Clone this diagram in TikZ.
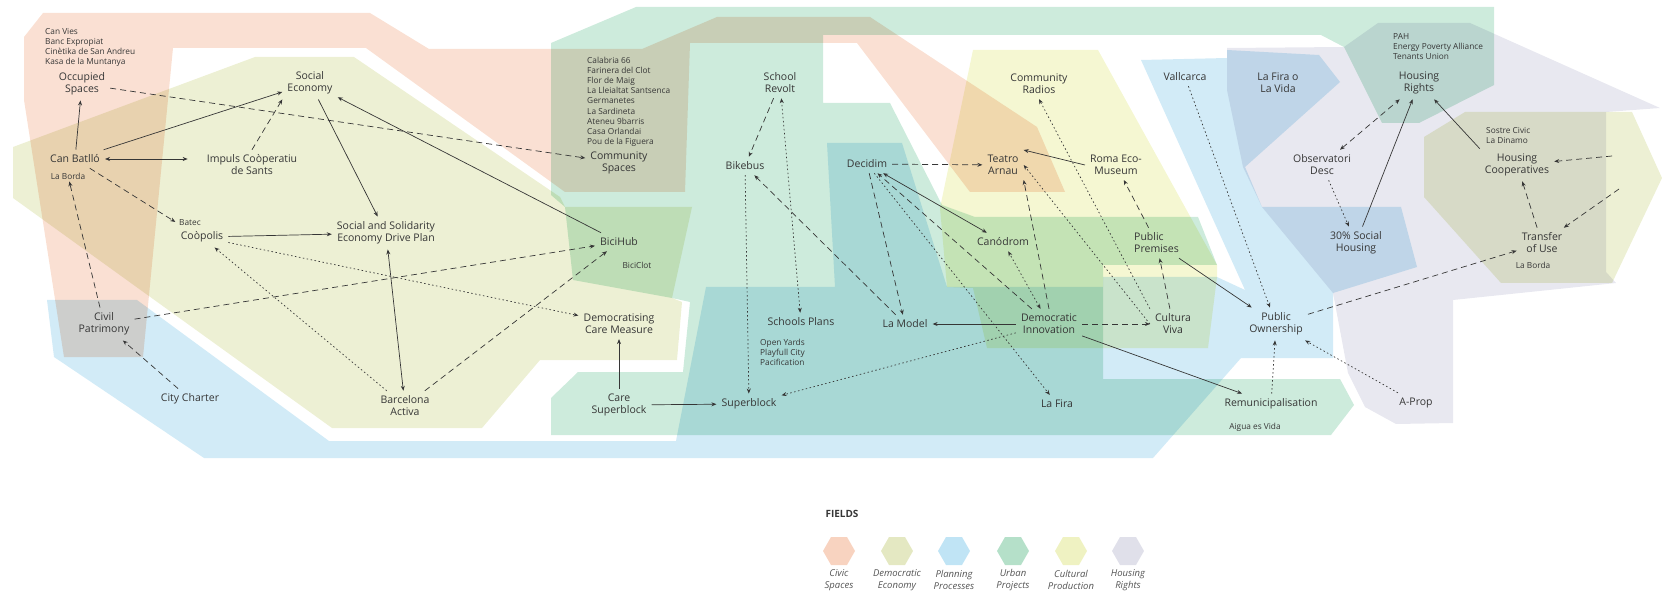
\documentclass[tikz,border=0pt]{standalone}
\usepackage{fontspec}
\setmainfont{Open Sans}
\usetikzlibrary{arrows.meta}

\definecolor{civic}{HTML}{FAE0D3}
\definecolor{demeco}{HTML}{EDF0D4}
\definecolor{planning}{HTML}{D2EBF7}
\definecolor{urban}{HTML}{CDEBDC}
\definecolor{cultural}{HTML}{F5F7D2}
\definecolor{housing}{HTML}{E8E8F0}
\definecolor{civicL}{HTML}{F8D3C0}
\definecolor{demecoL}{HTML}{E4E8C2}
\definecolor{planningL}{HTML}{C0E4F5}
\definecolor{urbanL}{HTML}{B5E0C9}
\definecolor{culturalL}{HTML}{EFF2C2}
\definecolor{housingL}{HTML}{E0E0EA}
\definecolor{ink}{HTML}{363636}

\tikzset{
  field/.style={fill=#1, blend mode=multiply},
  lbl/.style={align=center, text=ink, font=\fontsize{10.5}{12}\selectfont, inner sep=5pt},
  sub/.style={align=left, text=ink, font=\fontsize{8.3}{10}\selectfont, inner sep=2pt},
  link/.style={draw=ink, line width=0.7pt, -{Stealth[length=5pt,width=4pt]}},
  dlink/.style={link, dash pattern=on 6pt off 4pt},
  olink/.style={link, dash pattern=on 1.5pt off 2.5pt},
  twoway/.style={{Stealth[length=5pt,width=4pt]}-{Stealth[length=5pt,width=4pt]}},
  legend/.style={align=center, text=ink!85, font=\itshape\fontsize{9.5}{12}\selectfont, inner sep=1pt}
}

\begin{document}
\begin{tikzpicture}[x=1pt,y=-1pt]
\useasboundingbox (0,0) rectangle (1680,593);

% fields
\fill[field=civic] (43,13) -- (370,13) -- (429,49) -- (642,49) -- (717,17) -- (870,17)
  -- (1037,127) -- (1065,192) -- (970,192) -- (857,43) -- (690,43) -- (685,192) -- (565,192)
  -- (366,48) -- (173,48) -- (143,357) -- (64,357) -- (24,100) -- (24,37) -- cycle;
\fill[field=demeco] (13,147) -- (255,57) -- (354,57) -- (560,197) -- (565,207) -- (692,207)
  -- (672,298) -- (682,302) -- (677,360) -- (540,360) -- (482,428) -- (332,428) -- (13,198) -- cycle;
\fill[field=demeco] (1424,137) -- (1465,112) -- (1632,112) -- (1662,178) -- (1612,283)
  -- (1501,283) -- (1424,197) -- cycle;
\fill[field=planning] (47,300) -- (137,300) -- (329,441) -- (676,441) -- (706,287) -- (835,287)
  -- (827,143) -- (902,143) -- (947,287) -- (1103,287) -- (1103,277) -- (1217,277) -- (1245,290)
  -- (1141,60) -- (1227,58) -- (1227,50) -- (1319,55) -- (1340,82) -- (1245,167) -- (1262,207)
  -- (1401,207) -- (1417,267) -- (1333,293) -- (1333,358) -- (1241,358) -- (1153,458)
  -- (204,458) -- (54,357) -- cycle;
\fill[field=urban] (551,43) -- (636,7) -- (1494,7) -- (1494,85) -- (1419,123) -- (1382,123)
  -- (1344,47) -- (1321,35) -- (823,35) -- (823,103) -- (890,103) -- (942,205) -- (975,217)
  -- (1198,217) -- (1217,265) -- (1103,265) -- (1103,379) -- (1340,379) -- (1354,405)
  -- (1331,435) -- (551,435) -- (551,398) -- (578,372) -- (683,372) -- (690,302) -- (672,298)
  -- (573,280) -- (565,207) -- (551,195) -- cycle;
\fill[field=cultural] (973,50) -- (1098,50) -- (1217,265) -- (1217,277) -- (1208,348)
  -- (987,348) -- (973,288) -- (947,287) -- (940,208) -- cycle;
\fill[field=housing] (1227,48) -- (1344,47) -- (1378,23) -- (1470,23) -- (1660,108)
  -- (1606,112) -- (1606,272) -- (1616,283) -- (1453,300) -- (1453,423) -- (1396,424)
  -- (1365,407) -- (1348,373) -- (1333,293) -- (1262,207) -- (1243,167) -- (1227,90) -- cycle;

% projects
\node[lbl] (occ) at (82,84) {Occupied\\Spaces};
\node[sub, anchor=north west] (occlist) at (43,26) {Can Vies\\Banc Expropiat\\Cinètika de San Andreu\\Kasa de la Muntanya};
\node[lbl] (batllo) at (75,159) {Can Batlló};
\node[sub] (borda1) at (68,176) {La Borda};
\node[lbl] (impuls) at (252,165) {Impuls Coòperatiu\\de Sants};
\node[lbl] (soceco) at (310,83) {Social\\Economy};
\node[lbl] (coopolis) at (202,237) {Coòpolis};
\node[sub, anchor=west] (batec) at (177,223) {Batec};
\node[lbl] (ssedp) at (386,233) {Social and Solidarity\\Economy Drive Plan};
\node[lbl] (civpat) at (104,324) {Civil\\Patrimony};
\node[lbl] (charter) at (190,399) {City Charter};
\node[lbl] (activa) at (405,406) {Barcelona\\Activa};
\node[lbl] (bicihub) at (619,242) {BiciHub};
\node[sub] (biciclot) at (637,265) {BiciClot};
\node[lbl] (dcm) at (619,324) {Democratising\\Care Measure};
\node[lbl] (caresb) at (619,405) {Care\\Superblock};
\node[lbl] (superblock) at (749,404) {Superblock};
\node[lbl] (commsp) at (619,163) {Community\\Spaces};
\node[sub, anchor=north west, font=\fontsize{8.3}{10.1}\selectfont] (commlist) at (585,55)
  {Calabria 66\\Farinera del Clot\\Flor de Maig\\La Lleialtat Santsenca\\Germanetes\\La Sardineta\\Ateneu 9barris\\Casa Orlandai\\Pou de la Figuera};
\node[lbl] (revolt) at (780,83) {School\\Revolt};
\node[lbl] (bikebus) at (745,166) {Bikebus};
\node[lbl] (decidim) at (867,164) {Decidim};
\node[lbl] (schplans) at (801,322) {Schools Plans};
\node[sub, anchor=north west] (schlist) at (758,337) {Open Yards\\Playfull City\\Pacification};
\node[lbl] (lamodel) at (905,324) {La Model};
\node[lbl] (teatro) at (1003,165) {Teatro\\Arnau};
\node[lbl] (radios) at (1039,84) {Community\\Radios};
\node[lbl] (roma) at (1116,165) {Roma Eco-\\Museum};
\node[lbl] (canodrom) at (1003,242) {Canódrom};
\node[lbl, align=left, anchor=west] (premises) at (1129,243) {Public\\Premises};
\node[lbl] (deminn) at (1049,324) {Democratic\\Innovation};
\node[lbl] (cultura) at (1173,324) {Cultura\\Viva};
\node[lbl] (lafira) at (1057,404) {La Fira};
\node[lbl] (remun) at (1271,404) {Remunicipalisation};
\node[sub] (aigua) at (1255,427) {Aigua es Vida};
\node[lbl] (puown) at (1276,324) {Public\\Ownership};
\node[lbl] (aprop) at (1416,403) {A-Prop};
\node[lbl] (vallcarca) at (1185,77) {Vallcarca};
\node[lbl] (firavida) at (1278,83) {La Fira o\\La Vida};
\node[lbl] (hrights) at (1419,83) {Housing\\Rights};
\node[sub, anchor=north west] (hrlist) at (1391,31) {PAH\\Energy Poverty Alliance\\Tenants Union};
\node[lbl] (obsdesc) at (1322,165) {Observatori\\Desc};
\node[lbl] (social30) at (1356,243) {30\% Social\\Housing};
\node[lbl] (hcoop) at (1517,165) {Housing\\Cooperatives};
\node[sub, anchor=north west] (hclist) at (1484,125) {Sostre Civic\\La Dinamo};
\node[lbl] (transfer) at (1542,243) {Transfer\\of Use};
\node[sub] (borda2) at (1533,265) {La Borda};
\coordinate (eastin) at (1612,156);
\coordinate (eastin2) at (1619,189);

% links
\draw[link] (batllo) -- (occ);
\draw[link] (batllo) -- (soceco);
\draw[link,twoway,shorten >=14pt] (batllo) -- (impuls.west |- batllo);
\draw[dlink] (impuls.north) -- (soceco.south west);
\draw[dlink] (occ) -- (commsp);
\draw[link] (soceco) -- (ssedp);
\draw[link] (bicihub) -- (soceco);
\draw[dlink, shorten >=2pt] (batllo) -- (batec.west);
\draw[dlink] (civpat) -- (borda1);
\draw[link] (coopolis) -- (ssedp);
\draw[olink] (coopolis) -- (dcm);
\draw[olink] (activa) -- (coopolis);
\draw[link,twoway] (activa) -- (ssedp);
\draw[dlink] (civpat) -- (bicihub);
\draw[dlink] (activa) -- (bicihub);
\draw[dlink] (charter) -- (civpat);
\draw[link] (caresb) -- (dcm);
\draw[link] (caresb) -- (superblock);
\draw[dlink] (revolt) -- (bikebus);
\draw[olink,twoway] (schplans) -- (revolt);
\draw[olink] (bikebus) -- (superblock);
\draw[dlink] (lamodel) -- (bikebus);
\draw[dlink] (decidim) -- (lamodel);
\draw[dlink] (decidim) -- (teatro);
\draw[link,twoway] (decidim) -- (canodrom);
\draw[olink] (decidim) -- (lafira);
\draw[dlink] (deminn) -- (decidim);
\draw[dlink] (deminn.north) -- (teatro.south east);
\draw[olink,twoway] (deminn) -- (canodrom);
\draw[link] (deminn) -- (lamodel);
\draw[dlink] (deminn) -- (cultura);
\draw[olink] (deminn) -- (superblock);
\draw[link] (deminn) -- (remun);
\draw[link] (roma.west) -- (teatro.north east);
\draw[olink] (cultura.north west) -- (radios.south);
\draw[olink] (cultura.west) -- (teatro.east);
\draw[dlink] (cultura) -- (premises);
\draw[dlink] (premises) -- (roma);
\draw[link] (premises) -- (puown);
\draw[olink] (vallcarca) -- (puown);
\draw[olink] (remun) -- (puown);
\draw[olink] (aprop) -- (puown);
\draw[dlink] (puown) -- (transfer);
\draw[dlink,twoway] (obsdesc) -- (hrights);
\draw[olink] (obsdesc) -- (social30);
\draw[link] (social30) -- (hrights);
\draw[link] (hcoop.north west) -- (hrights);
\draw[dlink] (transfer) -- (hcoop);
\draw[dlink] (eastin) -- (hcoop);
\draw[dlink] (eastin2) -- (transfer);

% key
\node[anchor=west, text=ink, font=\bfseries\fontsize{10}{12}\selectfont] (fields) at (822,514) {FIELDS};
\foreach \f/\x/\a/\b [count=\i] in {civicL/839/Civic/Spaces, demecoL/897/Democratic/Economy,
    planningL/954/Planning/Processes, urbanL/1013/Urban/Projects,
    culturalL/1071/Cultural/Production, housingL/1128/Housing/Rights}{
  \fill[\f] (\x-16,551) -- (\x-8,537) -- (\x+8,537) -- (\x+16,551) -- (\x+8,565) -- (\x-8,565) -- cycle;
  \node[legend] (key\i) at (\x,580) {\a\\\b};
}
\end{tikzpicture}
\end{document}
